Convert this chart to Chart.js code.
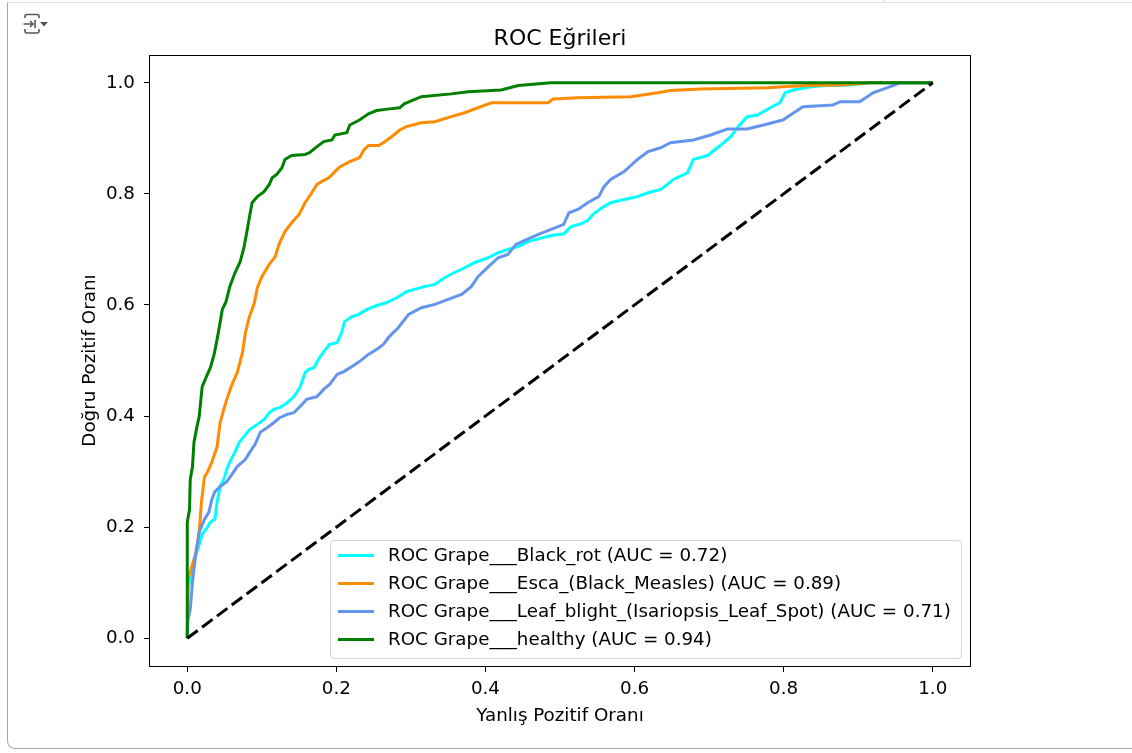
<!DOCTYPE html>
<html>
<head>
<meta charset="utf-8">
<script src="https://cdn.jsdelivr.net/npm/chart.js@4.4.1/dist/chart.umd.min.js"></script>
<style>
  html, body { margin: 0; padding: 0; background: #fff; }
  body { width: 1132px; height: 753px; position: relative; overflow: hidden; font-family: "DejaVu Sans", sans-serif; }
  .cell { position: absolute; left: 7px; top: 2px; width: 1200px; height: 745px;
          border-left: 1px solid #a8a8a8; border-bottom: 1px solid #a8a8a8; border-top: 1px solid #e3e3e3;
          border-bottom-left-radius: 8px; }
  .sep { position: absolute; left: 884px; top: 0; width: 1px; height: 3px; background: #d8d8d8; }
  .icon { position: absolute; left: 22px; top: 13px; }
  #chart { position: absolute; left: 0; top: 0; }
  #legend { position: absolute; left: 330px; top: 540px; width: 632px; height: 119px; box-sizing: border-box;
            border: 1px solid #d6d6d6; border-radius: 4px; background: rgba(255,255,255,0.8); }
  .row { position: absolute; left: 0; right: 0; height: 28px; line-height: 28px; font-size: 18.3px; color: #000; white-space: nowrap; }
  .row i { position: absolute; left: 7px; top: 13px; width: 36px; height: 3px; }
  .row span { position: absolute; left: 57px; }
</style>
</head>
<body>
<div class="cell"></div>
<div class="sep"></div>
<svg class="icon" width="28" height="22" viewBox="0 0 28 22">
  <path d="M3 5 V3.5 Q3 1.5 5 1.5 H15 Q17 1.5 17 3.5 V5" fill="none" stroke="#555" stroke-width="1.6"/>
  <path d="M3 16 V18 Q3 20 5 20 H15 Q17 20 17 18 V16" fill="none" stroke="#555" stroke-width="1.6"/>
  <path d="M1.5 11 H11 M8 8 L11 11 L8 14 M13 7 V15" fill="none" stroke="#555" stroke-width="1.6"/>
  <path d="M18 9 H26 L22 13.5 Z" fill="#555"/>
</svg>
<canvas id="chart" width="1132" height="753"></canvas>
<div id="legend"></div>

<script>
const xTicks = [0, 0.2, 0.4, 0.6, 0.8, 1.0];
const yTicks = [0, 0.2, 0.4, 0.6, 0.8, 1.0];
const tickLabels = ['0.0', '0.2', '0.4', '0.6', '0.8', '1.0'];

const classNames = ['Grape___Black_rot', 'Grape___Esca_(Black_Measles)',
                    'Grape___Leaf_blight_(Isariopsis_Leaf_Spot)', 'Grape___healthy'];
const aucValues = [0.72, 0.89, 0.71, 0.94];
const lineColors = ['#00ffff', '#ff8c00', '#6495ed', '#008000'];

// [fpr, tpr]
const blackRot = [[0,0],[0.001,0.088],[0.005,0.115],[0.009,0.142],[0.015,0.164],[0.020,0.187],[0.027,0.200],
  [0.031,0.209],[0.037,0.214],[0.040,0.245],[0.044,0.273],[0.049,0.286],[0.053,0.304],[0.057,0.317],[0.064,0.335],
  [0.070,0.353],[0.076,0.363],[0.084,0.376],[0.094,0.385],[0.103,0.394],[0.110,0.406],[0.116,0.412],[0.124,0.415],
  [0.134,0.424],[0.143,0.435],[0.151,0.451],[0.158,0.478],[0.163,0.484],[0.170,0.487],[0.176,0.502],[0.183,0.516],
  [0.191,0.529],[0.201,0.532],[0.207,0.550],[0.211,0.570],[0.221,0.579],[0.230,0.583],[0.241,0.592],[0.254,0.599],
  [0.267,0.604],[0.281,0.613],[0.294,0.624],[0.318,0.633],[0.332,0.637],[0.345,0.649],[0.358,0.658],[0.372,0.667],
  [0.385,0.676],[0.404,0.685],[0.417,0.694],[0.430,0.700],[0.444,0.705],[0.457,0.714],[0.471,0.719],[0.488,0.725],
  [0.505,0.728],[0.515,0.741],[0.528,0.746],[0.537,0.752],[0.545,0.764],[0.559,0.777],[0.568,0.784],[0.586,0.790],
  [0.604,0.795],[0.618,0.802],[0.635,0.808],[0.644,0.817],[0.652,0.826],[0.671,0.838],[0.679,0.862],[0.698,0.869],
  [0.715,0.887],[0.729,0.903],[0.739,0.921],[0.751,0.939],[0.765,0.942],[0.782,0.955],[0.795,0.964],[0.802,0.982],
  [0.813,0.987],[0.836,0.993],[0.858,0.995],[0.889,0.996],[0.916,1],[1,1]];

const esca = [[0,0],[0.001,0.106],[0.007,0.133],[0.011,0.151],[0.016,0.191],[0.019,0.245],[0.023,0.290],
  [0.027,0.299],[0.033,0.317],[0.040,0.345],[0.044,0.388],[0.049,0.412],[0.053,0.430],[0.060,0.457],[0.067,0.478],
  [0.074,0.514],[0.078,0.550],[0.083,0.577],[0.090,0.604],[0.094,0.631],[0.100,0.651],[0.110,0.673],[0.118,0.687],
  [0.123,0.709],[0.131,0.732],[0.140,0.748],[0.150,0.763],[0.158,0.784],[0.167,0.802],[0.174,0.817],[0.180,0.822],
  [0.190,0.829],[0.198,0.840],[0.205,0.849],[0.218,0.858],[0.231,0.865],[0.237,0.879],[0.243,0.887],[0.257,0.887],
  [0.265,0.894],[0.277,0.906],[0.285,0.915],[0.294,0.921],[0.314,0.928],[0.332,0.930],[0.354,0.939],[0.372,0.946],
  [0.408,0.964],[0.484,0.964],[0.491,0.971],[0.524,0.973],[0.595,0.975],[0.631,0.982],[0.648,0.986],[0.689,0.989],
  [0.778,0.991],[0.799,0.993],[0.832,0.995],[0.876,0.996],[0.916,1],[1,1]];

const leafBlight = [[0,0],[0.001,0.034],[0.004,0.052],[0.007,0.101],[0.011,0.147],[0.016,0.191],[0.023,0.214],
  [0.029,0.227],[0.033,0.250],[0.037,0.264],[0.044,0.273],[0.053,0.282],[0.060,0.295],[0.067,0.309],[0.078,0.322],
  [0.084,0.335],[0.091,0.349],[0.098,0.371],[0.107,0.379],[0.116,0.388],[0.124,0.397],[0.134,0.403],[0.143,0.406],
  [0.154,0.421],[0.160,0.430],[0.174,0.435],[0.183,0.448],[0.191,0.457],[0.201,0.475],[0.210,0.480],[0.221,0.489],
  [0.231,0.498],[0.243,0.511],[0.254,0.520],[0.263,0.529],[0.271,0.543],[0.283,0.559],[0.297,0.583],[0.314,0.595],
  [0.332,0.601],[0.350,0.610],[0.368,0.619],[0.381,0.633],[0.390,0.651],[0.404,0.669],[0.417,0.685],[0.430,0.691],
  [0.441,0.709],[0.452,0.716],[0.471,0.727],[0.488,0.736],[0.505,0.745],[0.512,0.766],[0.524,0.772],[0.537,0.784],
  [0.552,0.795],[0.559,0.813],[0.568,0.826],[0.586,0.840],[0.604,0.862],[0.618,0.876],[0.635,0.883],[0.648,0.892],
  [0.679,0.897],[0.702,0.906],[0.725,0.917],[0.751,0.917],[0.773,0.924],[0.799,0.933],[0.809,0.942],[0.826,0.957],
  [0.866,0.960],[0.876,0.966],[0.902,0.966],[0.920,0.982],[0.943,0.993],[0.956,1],[1,1]];

const healthy = [[0,0],[0,0.209],[0.003,0.232],[0.004,0.286],[0.007,0.309],[0.009,0.353],[0.013,0.381],
  [0.016,0.399],[0.020,0.453],[0.027,0.475],[0.031,0.487],[0.036,0.511],[0.040,0.538],[0.044,0.568],[0.047,0.592],
  [0.052,0.606],[0.057,0.633],[0.064,0.658],[0.071,0.678],[0.076,0.703],[0.080,0.732],[0.084,0.763],[0.087,0.784],
  [0.094,0.795],[0.103,0.804],[0.110,0.817],[0.114,0.829],[0.120,0.835],[0.127,0.847],[0.131,0.862],[0.140,0.869],
  [0.158,0.871],[0.164,0.874],[0.174,0.885],[0.183,0.894],[0.194,0.897],[0.198,0.906],[0.214,0.910],[0.218,0.924],
  [0.231,0.933],[0.243,0.944],[0.254,0.950],[0.271,0.953],[0.285,0.955],[0.291,0.962],[0.314,0.975],[0.354,0.980],
  [0.377,0.984],[0.421,0.987],[0.444,0.995],[0.488,1],[1,1]];

const chanceLine = [[0,0],[1,1]];

const curves = [blackRot, esca, leafBlight, healthy];
const FONT = 'DejaVu Sans';

const toPoints = arr => arr.map(p => ({x: p[0], y: p[1]}));

const datasets = curves.map((c, i) => ({
  label: `ROC ${classNames[i]} (AUC = ${aucValues[i].toFixed(2)})`,
  data: toPoints(c),
  borderColor: lineColors[i],
  borderWidth: 3,
  order: 5 - i
}));
datasets.push({
  label: 'chance',
  data: toPoints(chanceLine),
  borderColor: '#000',
  borderWidth: 3,
  borderDash: [13, 5.5],
  order: 0
});

// matplotlib style box around the axes
const frame = {
  id: 'frame',
  afterDatasetsDraw(chart) {
    const {ctx, chartArea: a} = chart;
    ctx.save();
    ctx.strokeStyle = '#000';
    ctx.lineWidth = 1;
    ctx.strokeRect(Math.round(a.left) - 0.5, Math.round(a.top) + 0.5,
                   Math.round(a.right - a.left) + 1, Math.round(a.bottom - a.top));
    ctx.restore();
  }
};

const axisCommon = {
  type: 'linear',
  min: -0.05,
  max: 1.05,
  border: { display: false },
  grid: { drawOnChartArea: false, drawTicks: true, tickLength: 6, color: '#000', lineWidth: 1 },
};

new Chart(document.getElementById('chart'), {
  type: 'scatter',
  data: { datasets },
  options: {
    responsive: false,
    animation: false,
    showLine: true,
    elements: { point: { radius: 0 }, line: { tension: 0, fill: false } },
    layout: { padding: { left: 0, right: 162, top: 0, bottom: 0 } },
    plugins: {
      legend: { display: false },
      tooltip: { enabled: false },
      title: {
        display: true,
        text: 'ROC Eğrileri',
        fullSize: false,
        color: '#000',
        font: { family: FONT, size: 22, weight: 'normal' },
        padding: { top: 26, bottom: 2.6 }
      }
    },
    scales: {
      x: {
        ...axisCommon,
        position: 'bottom',
        afterBuildTicks: s => { s.ticks = xTicks.map(v => ({value: v})); },
        afterFit: s => { s.height = 87; },
        ticks: { color: '#000', padding: 6, font: { family: FONT, size: 18.3 },
                 callback: (v, i) => tickLabels[i] },
        title: { display: true, text: 'Yanlış Pozitif Oranı', color: '#000',
                 font: { family: FONT, size: 18.3 }, padding: { top: 0, bottom: 26 } }
      },
      y: {
        ...axisCommon,
        position: 'left',
        afterBuildTicks: s => { s.ticks = yTicks.map(v => ({value: v})); },
        afterFit: s => { s.width = 150; },
        ticks: { color: '#000', padding: 9, font: { family: FONT, size: 18.3 },
                 callback: (v, i) => tickLabels[i] },
        title: { display: true, text: 'Doğru Pozitif Oranı', color: '#000',
                 font: { family: FONT, size: 18.3 }, padding: { top: 79, bottom: 0 } }
      }
    }
  },
  plugins: [frame]
});

// legend sits inside the axes, lower right
const legend = document.getElementById('legend');
classNames.forEach((name, i) => {
  legend.innerHTML += `<div class="row" style="top:${i * 28}px">
      <i style="background:${lineColors[i]}"></i>
      <span>ROC ${name} (AUC = ${aucValues[i].toFixed(2)})</span></div>`;
});
</script>
</body>
</html>
